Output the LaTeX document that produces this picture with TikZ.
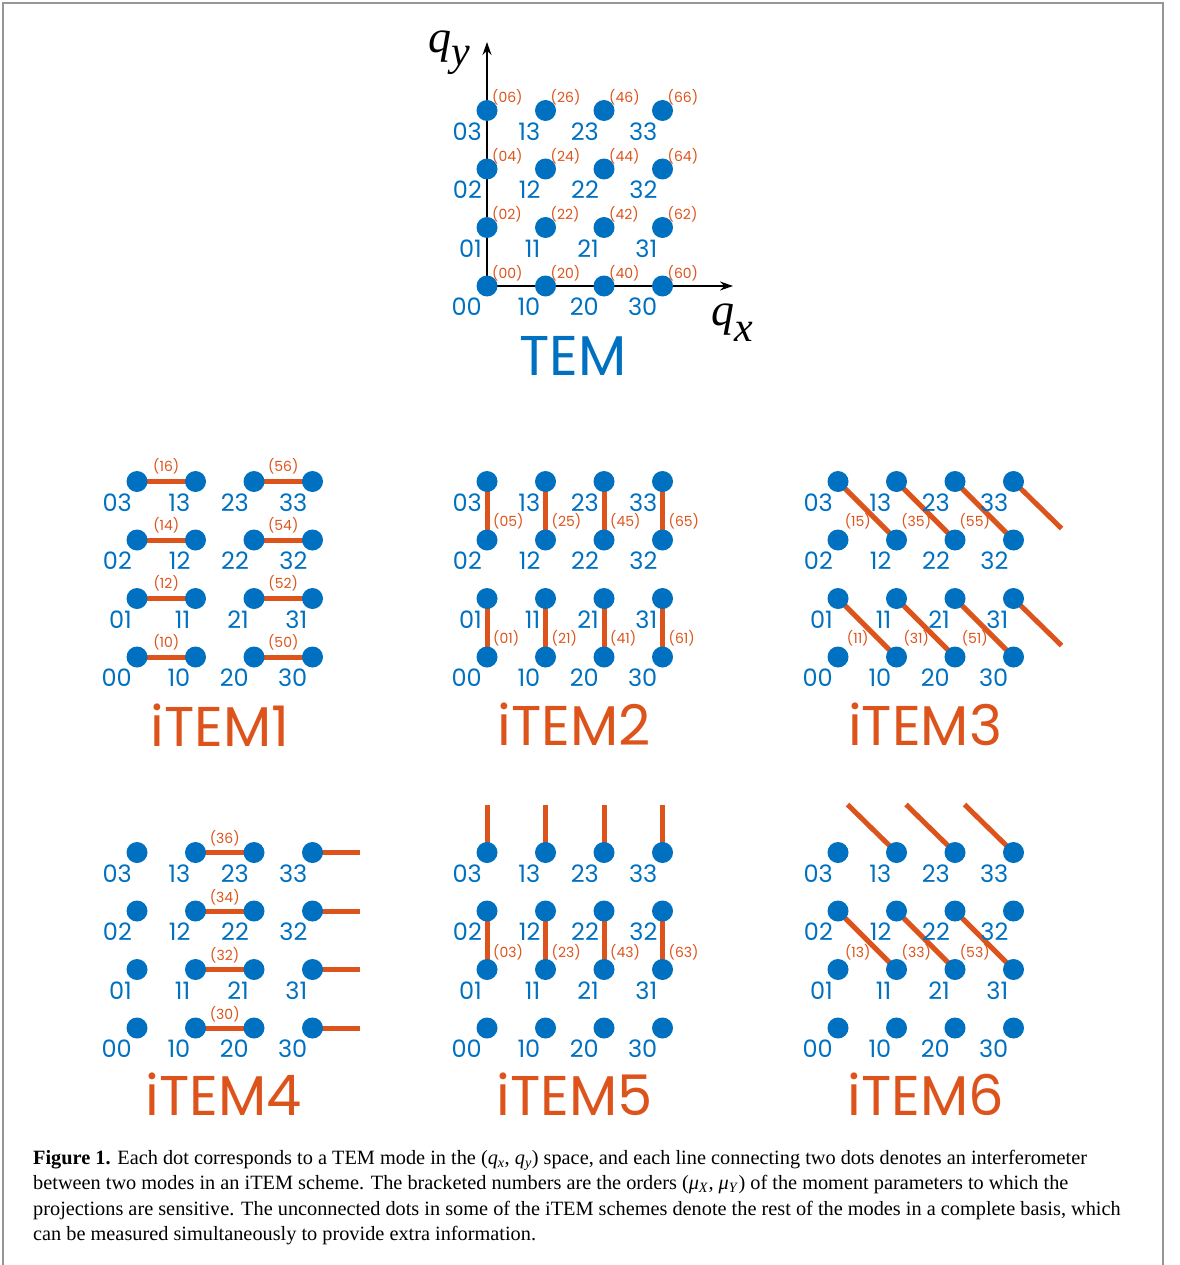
\documentclass[tikz,border=0pt]{standalone}
\usepackage{fontspec}
\setmainfont{Liberation Serif}
\newfontfamily\gfont{Poppins}
\usetikzlibrary{arrows.meta,calc}
\definecolor{tblue}{RGB}{0,112,192}
\definecolor{torange}{RGB}{220,84,28}
\definecolor{framegray}{RGB}{150,150,150}
\pgfdeclarelayer{bg}
\pgfsetlayers{bg,main}
\newcommand{\modegrid}[3]{%
  \foreach \i in {0,...,3}{\foreach \j in {0,...,3}{%
    \node[dot] (#1\i\j) at ({#2+58.5*\i},{#3-58.5*\j}) {};
    \node[modelbl] (#1l\i\j) at ({#2+58.5*\i-5},{#3-58.5*\j+21}) {\i\j};
  }}}
\begin{document}
\begin{tikzpicture}[x=1pt,y=-1pt,
  dot/.style={circle,fill=tblue,minimum size=21pt,inner sep=0pt},
  modelbl/.style={text=tblue,font=\gfont\fontsize{24}{24}\selectfont,inner sep=0pt,anchor=east},
  ordlbl/.style={text=torange,font=\gfont\fontsize{14}{14}\selectfont,inner sep=0pt},
  link/.style={draw=torange,line width=5pt},
  titletext/.style={font=\gfont\fontsize{56}{56}\selectfont,inner sep=0pt,anchor=base},
  axis/.style={draw=black,line width=1.6pt,-{Stealth[length=13pt,width=9pt]}},
  captext/.style={font=\fontsize{20.3}{23}\selectfont,inner sep=0pt,anchor=base west}
]
\useasboundingbox (0,0) rectangle (1179,1265);
\draw[framegray,line width=1.5pt] (3,1265) -- (3,3) -- (1163,3) -- (1163,1265);

% ---------- TEM ----------
\modegrid{T}{487}{286}
\foreach \i in {0,...,3}{\foreach \j in {0,...,3}{%
  \pgfmathtruncatemacro{\a}{2*\i}\pgfmathtruncatemacro{\b}{2*\j}
  \node[ordlbl,anchor=west] (To\i\j) at ($(T\i\j)+(5,-13)$) {(\a\b)};
}}
\coordinate (ytip) at (487,42);
\coordinate (xtip) at (733,286);
\begin{pgfonlayer}{bg}
\draw[axis] (T00.center) -- (ytip);
\draw[axis] (T00.center) -- (xtip);
\end{pgfonlayer}
\node[inner sep=0pt,anchor=base west] (qy) at (428,53) {\fontsize{46}{46}\selectfont\textit{q}\raisebox{-13pt}{\fontsize{42}{42}\selectfont\textit{y}}};
\node[inner sep=0pt,anchor=base west] (qx) at (711,325) {\fontsize{46}{46}\selectfont\textit{q}\raisebox{-16pt}{\fontsize{42}{42}\selectfont\textit{x}}};
\node[titletext,text=tblue] (tTEM) at (573,375) {TEM};

% ---------- iTEM1 ----------
\modegrid{A}{137}{657}
\foreach \j in {0,...,3}{%
  \pgfmathtruncatemacro{\b}{2*\j}
  \begin{pgfonlayer}{bg}
  \draw[link] (A0\j.center) -- (A1\j.center);
  \draw[link] (A2\j.center) -- (A3\j.center);
  \end{pgfonlayer}
  \node[ordlbl] (Ao1\j) at ($(A0\j)!0.5!(A1\j)+(0,-15)$) {(1\b)};
  \node[ordlbl] (Ao5\j) at ($(A2\j)!0.5!(A3\j)+(0,-15)$) {(5\b)};
}
\node[titletext,text=torange] (t1) at (220,746) {iTEM1};

% ---------- iTEM2 ----------
\modegrid{B}{487}{657}
\foreach \i in {0,...,3}{%
  \pgfmathtruncatemacro{\a}{2*\i}
  \begin{pgfonlayer}{bg}
  \draw[link] (B\i3.center) -- (B\i2.center);
  \draw[link] (B\i1.center) -- (B\i0.center);
  \end{pgfonlayer}
  \node[ordlbl,anchor=west] (Bo\i5) at ($(B\i3)!0.5!(B\i2)+(6,11)$) {(\a5)};
  \node[ordlbl,anchor=west] (Bo\i1) at ($(B\i1)!0.5!(B\i0)+(6,11)$) {(\a1)};
}
\node[titletext,text=torange] (t2) at (574.5,745) {iTEM2};

% ---------- iTEM3 ----------
\modegrid{C}{838}{657}
\foreach \i [evaluate=\i as \n using int(\i+1)] in {0,1,2}{%
  \pgfmathtruncatemacro{\a}{2*\i+1}
  \begin{pgfonlayer}{bg}
  \draw[link] (C\i3.center) -- (C\n2.center);
  \draw[link] (C\i1.center) -- (C\n0.center);
  \end{pgfonlayer}
  \node[ordlbl] (Co\i5) at ($(C\i3)!0.5!(C\n2)+(-9.5,11)$) {(\a5)};
  \node[ordlbl] (Co\i1) at ($(C\i1)!0.5!(C\n0)+(-9.5,11)$) {(\a1)};
}
\coordinate (Ce3) at ($(C33)+(48,47)$);
\coordinate (Ce1) at ($(C31)+(48,47)$);
\begin{pgfonlayer}{bg}
\draw[link] (C33.center) -- (Ce3);
\draw[link] (C31.center) -- (Ce1);
\end{pgfonlayer}
\node[titletext,text=torange] (t3) at (925,745) {iTEM3};

% ---------- iTEM4 ----------
\modegrid{D}{137}{1028}
\foreach \j in {0,...,3}{%
  \pgfmathtruncatemacro{\b}{2*\j}
  \coordinate (De\j) at ($(D3\j)+(47,0)$);
  \begin{pgfonlayer}{bg}
  \draw[link] (D1\j.center) -- (D2\j.center);
  \draw[link] (D3\j.center) -- (De\j);
  \end{pgfonlayer}
  \node[ordlbl] (Do\j) at ($(D1\j)!0.5!(D2\j)+(0,-14)$) {(3\b)};
}
\node[titletext,text=torange] (t4) at (223.5,1115) {iTEM4};

% ---------- iTEM5 ----------
\modegrid{E}{487}{1028}
\foreach \i in {0,...,3}{%
  \pgfmathtruncatemacro{\a}{2*\i}
  \coordinate (Ee\i) at ($(E\i3)+(0,-48)$);
  \begin{pgfonlayer}{bg}
  \draw[link] (E\i3.center) -- (Ee\i);
  \draw[link] (E\i2.center) -- (E\i1.center);
  \end{pgfonlayer}
  \node[ordlbl,anchor=west] (Eo\i) at ($(E\i2)!0.5!(E\i1)+(6,12)$) {(\a3)};
}
\node[titletext,text=torange] (t5) at (574.5,1115) {iTEM5};

% ---------- iTEM6 ----------
\modegrid{F}{838}{1028}
\foreach \i [evaluate=\i as \n using int(\i+1)] in {0,1,2}{%
  \pgfmathtruncatemacro{\a}{2*\i+1}
  \coordinate (Fe\n) at ($(F\n3)+(-49,-48)$);
  \begin{pgfonlayer}{bg}
  \draw[link] (Fe\n) -- (F\n3.center);
  \draw[link] (F\i2.center) -- (F\n1.center);
  \end{pgfonlayer}
  \node[ordlbl] (Fo\i) at ($(F\i2)!0.5!(F\n1)+(-9.5,12)$) {(\a3)};
}
\node[titletext,text=torange] (t6) at (925.5,1115) {iTEM6};

% ---------- caption ----------
\node[captext] (cap1) at (33,1164) {\textbf{Figure 1.} Each dot corresponds to a TEM mode in the (\textit{q}\textsubscript{\textit{x}}, \textit{q}\textsubscript{\textit{y}}) space, and each line connecting two dots denotes an interferometer};
\node[captext] (cap2) at (33,1189.5) {between two modes in an iTEM scheme. The bracketed numbers are the orders (\textit{μ}\textsubscript{\textit{X}}, \textit{μ}\textsubscript{\textit{Y}}) of the moment parameters to which the};
\node[captext] (cap3) at (33,1215) {projections are sensitive. The unconnected dots in some of the iTEM schemes denote the rest of the modes in a complete basis, which};
\node[captext] (cap4) at (33,1240) {can be measured simultaneously to provide extra information.};
\end{tikzpicture}
\end{document}
